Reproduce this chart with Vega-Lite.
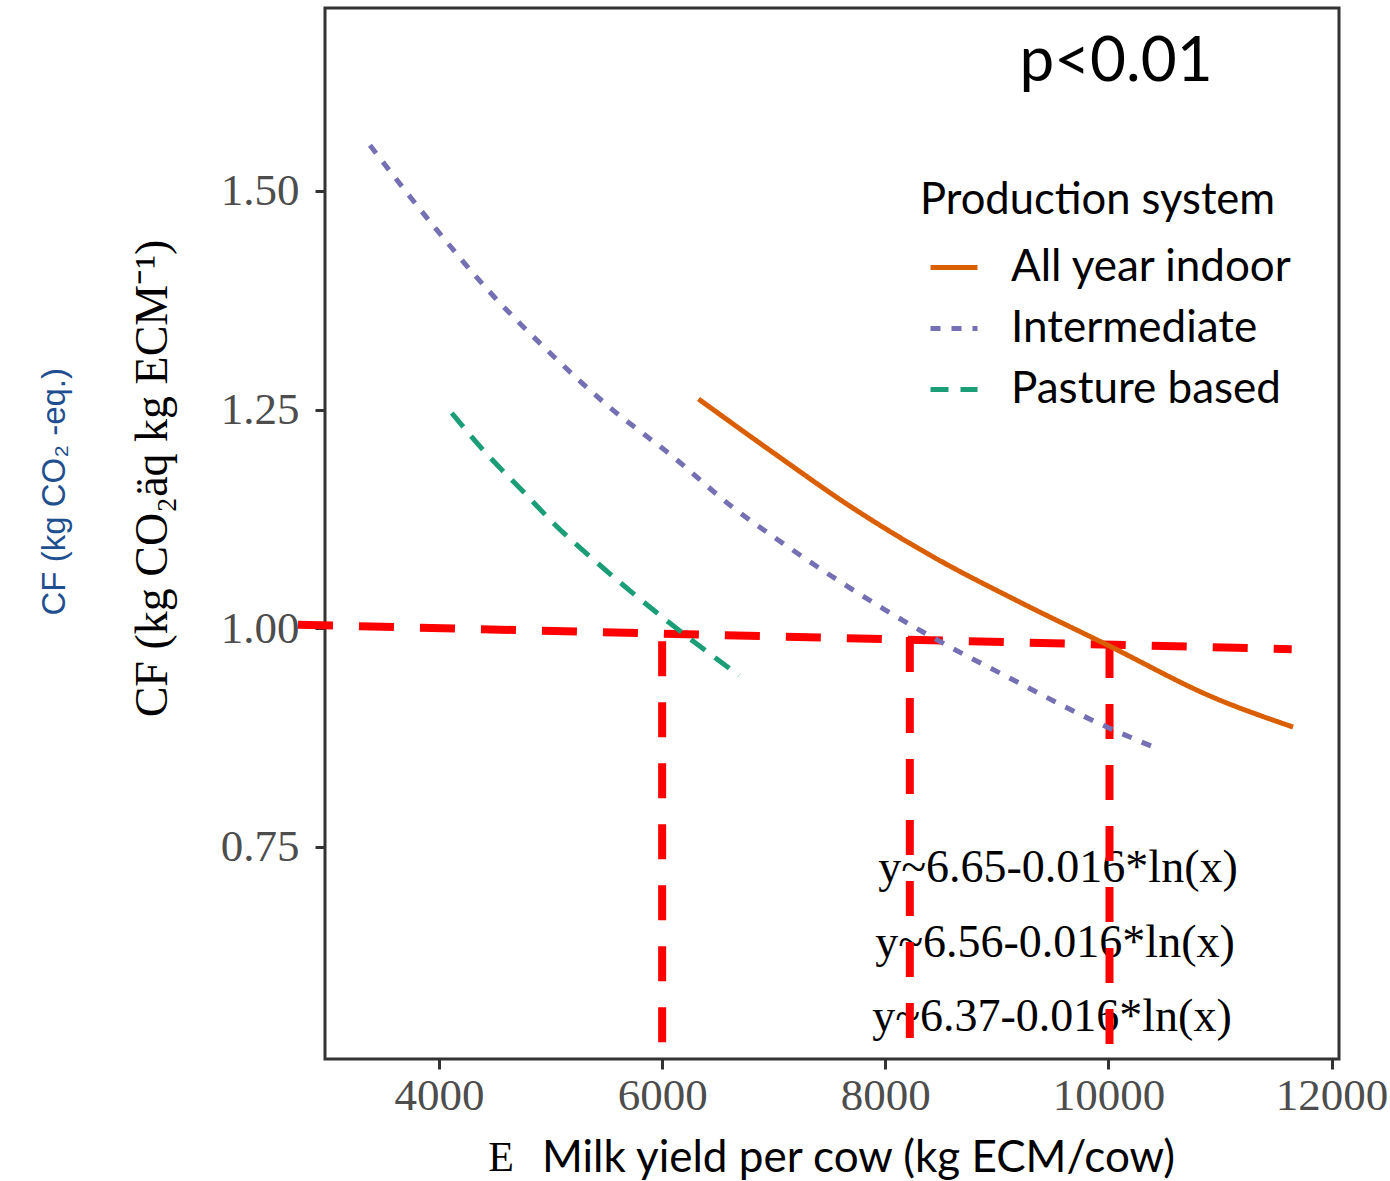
{
  "$schema": "https://vega.github.io/schema/vega-lite/v6.json",
  "width": 1014,
  "height": 1051,
  "autosize": {"type": "none"},
  "padding": {"left": 325, "top": 8, "right": 51, "bottom": 122},
  "background": "white",
  "config": {
    "view": {"stroke": "#333333", "strokeWidth": 3},
    "axis": {
      "grid": false,
      "domain": false,
      "tickColor": "#333333",
      "tickWidth": 3,
      "tickSize": 10,
      "labelFont": "Liberation Serif",
      "labelFontSize": 45,
      "labelColor": "#4d4d4d"
    },
    "legend": {
      "orient": "none",
      "legendX": 595,
      "legendY": 172,
      "padding": 0,
      "titleFont": "Lato",
      "titleFontSize": 43.5,
      "titleFontWeight": "normal",
      "titleColor": "black",
      "titlePadding": 18,
      "titleLimit": 0,
      "labelFont": "Lato",
      "labelFontSize": 44,
      "labelColor": "black",
      "labelLimit": 0,
      "labelOffset": 31,
      "symbolType": "stroke",
      "symbolSize": 2209,
      "symbolStrokeWidth": 5,
      "symbolOffset": 8,
      "rowPadding": 13
    }
  },
  "datasets": {
    "curves": [
      {"system": "All year indoor", "milk": 6326, "cf": 1.262},
      {"system": "All year indoor", "milk": 7003, "cf": 1.200},
      {"system": "All year indoor", "milk": 7702, "cf": 1.138},
      {"system": "All year indoor", "milk": 8437, "cf": 1.081},
      {"system": "All year indoor", "milk": 9172, "cf": 1.032},
      {"system": "All year indoor", "milk": 9988, "cf": 0.981},
      {"system": "All year indoor", "milk": 10938, "cf": 0.921},
      {"system": "All year indoor", "milk": 11655, "cf": 0.887},
      {"system": "Intermediate", "milk": 3381, "cf": 1.552},
      {"system": "Intermediate", "milk": 3982, "cf": 1.455},
      {"system": "Intermediate", "milk": 4457, "cf": 1.384},
      {"system": "Intermediate", "milk": 4968, "cf": 1.318},
      {"system": "Intermediate", "milk": 5506, "cf": 1.255},
      {"system": "Intermediate", "milk": 6097, "cf": 1.196},
      {"system": "Intermediate", "milk": 6635, "cf": 1.138},
      {"system": "Intermediate", "milk": 7083, "cf": 1.097},
      {"system": "Intermediate", "milk": 7998, "cf": 1.021},
      {"system": "Intermediate", "milk": 8473, "cf": 0.986},
      {"system": "Intermediate", "milk": 9100, "cf": 0.944},
      {"system": "Intermediate", "milk": 9952, "cf": 0.889},
      {"system": "Intermediate", "milk": 10427, "cf": 0.863},
      {"system": "Pasture based", "milk": 4114, "cf": 1.246},
      {"system": "Pasture based", "milk": 4394, "cf": 1.204},
      {"system": "Pasture based", "milk": 4786, "cf": 1.152},
      {"system": "Pasture based", "milk": 5058, "cf": 1.116},
      {"system": "Pasture based", "milk": 5353, "cf": 1.082},
      {"system": "Pasture based", "milk": 6008, "cf": 1.012},
      {"system": "Pasture based", "milk": 6690, "cf": 0.946}
    ],
    "refs": [
      {"x1": 2736, "x2": 11643, "y1": 1.004, "y2": 0.976},
      {"x1": 6000, "x2": 6000, "y1": 0.985, "y2": 0.521},
      {"x1": 8220, "x2": 8220, "y1": 0.990, "y2": 0.527},
      {"x1": 10010, "x2": 10010, "y1": 0.983, "y2": 0.513}
    ],
    "equations": [
      {"label": "y~6.65-0.016*ln(x)", "x": 9548, "y": 0.726},
      {"label": "y~6.56-0.016*ln(x)", "x": 9521, "y": 0.640},
      {"label": "y~6.37-0.016*ln(x)", "x": 9494, "y": 0.5555}
    ],
    "notes": [
      {"label": "p<0.01", "x": 10068, "y": 1.647}
    ],
    "stray": [
      {"label": "E", "x": 4556, "y": 0.394}
    ],
    "oldtitle": [
      {"label": "CF (kg CO₂ -eq.)", "x": 558, "y": 1.156}
    ]
  },
  "layer": [
    {
      "data": {"name": "equations"},
      "mark": {"type": "text", "font": "Liberation Serif", "fontSize": 46, "color": "black", "align": "center", "baseline": "middle"},
      "encoding": {
        "x": {"field": "x", "type": "quantitative", "scale": {"domain": [2978, 12067], "nice": false, "zero": false},
          "axis": {"values": [4000, 6000, 8000, 10000, 12000], "format": "d", "labelPadding": 4,
            "title": "Milk yield per cow (kg ECM/cow)", "titleFont": "Lato", "titleFontSize": 44, "titleFontWeight": "normal", "titleColor": "black",
            "titleX": 533, "titleY": 99, "titleBaseline": "middle", "titleAlign": "center"}},
        "y": {"field": "y", "type": "quantitative", "scale": {"domain": [0.5075, 1.709], "nice": false, "zero": false},
          "axis": {"values": [0.75, 1.0, 1.25, 1.5], "format": ".2f", "labelPadding": 16,
            "title": "CF (kg CO₂äq kg ECM⁻¹)", "titleFont": "Liberation Serif", "titleFontSize": 46, "titleFontWeight": "normal", "titleColor": "black",
            "titleX": -173, "titleY": 470, "titleBaseline": "middle", "titleAlign": "center", "titleAngle": -90}},
        "text": {"field": "label"}
      }
    },
    {
      "data": {"name": "refs"},
      "mark": {"type": "rule", "color": "#ff0000", "strokeWidth": 8, "strokeDash": [35, 26], "strokeCap": "butt"},
      "encoding": {
        "x": {"field": "x1", "type": "quantitative", "scale": {"domain": [2978, 12067], "nice": false, "zero": false}},
        "x2": {"field": "x2"},
        "y": {"field": "y1", "type": "quantitative", "scale": {"domain": [0.5075, 1.709], "nice": false, "zero": false}},
        "y2": {"field": "y2"}
      }
    },
    {
      "data": {"name": "curves"},
      "mark": {"type": "line", "strokeWidth": 5, "strokeCap": "butt", "interpolate": "monotone"},
      "encoding": {
        "x": {"field": "milk", "type": "quantitative", "scale": {"domain": [2978, 12067], "nice": false, "zero": false}},
        "y": {"field": "cf", "type": "quantitative", "scale": {"domain": [0.5075, 1.709], "nice": false, "zero": false}},
        "color": {"field": "system", "type": "nominal",
          "scale": {"domain": ["All year indoor", "Intermediate", "Pasture based"], "range": ["#d95f02", "#7570b3", "#1b9e77"]},
          "legend": {"title": "Production system"}},
        "strokeDash": {"field": "system", "type": "nominal",
          "scale": {"domain": ["All year indoor", "Intermediate", "Pasture based"], "range": [[1, 0], [10, 11], [18, 12]]},
          "legend": {"title": "Production system"}}
      }
    },
    {
      "data": {"name": "notes"},
      "mark": {"type": "text", "font": "Lato", "fontSize": 62, "color": "black", "align": "center", "baseline": "middle"},
      "encoding": {
        "x": {"field": "x", "type": "quantitative", "scale": {"domain": [2978, 12067], "nice": false, "zero": false}},
        "y": {"field": "y", "type": "quantitative", "scale": {"domain": [0.5075, 1.709], "nice": false, "zero": false}},
        "text": {"field": "label"}
      }
    },
    {
      "data": {"name": "stray"},
      "mark": {"type": "text", "font": "Liberation Serif", "fontSize": 42, "color": "black", "align": "center", "baseline": "middle"},
      "encoding": {
        "x": {"field": "x", "type": "quantitative", "scale": {"domain": [2978, 12067], "nice": false, "zero": false}},
        "y": {"field": "y", "type": "quantitative", "scale": {"domain": [0.5075, 1.709], "nice": false, "zero": false}},
        "text": {"field": "label"}
      }
    },
    {
      "data": {"name": "oldtitle"},
      "mark": {"type": "text", "font": "Liberation Sans", "fontSize": 33, "color": "#1f4f8f", "align": "center", "baseline": "middle", "angle": 270},
      "encoding": {
        "x": {"field": "x", "type": "quantitative", "scale": {"domain": [2978, 12067], "nice": false, "zero": false}},
        "y": {"field": "y", "type": "quantitative", "scale": {"domain": [0.5075, 1.709], "nice": false, "zero": false}},
        "text": {"field": "label"}
      }
    }
  ]
}
